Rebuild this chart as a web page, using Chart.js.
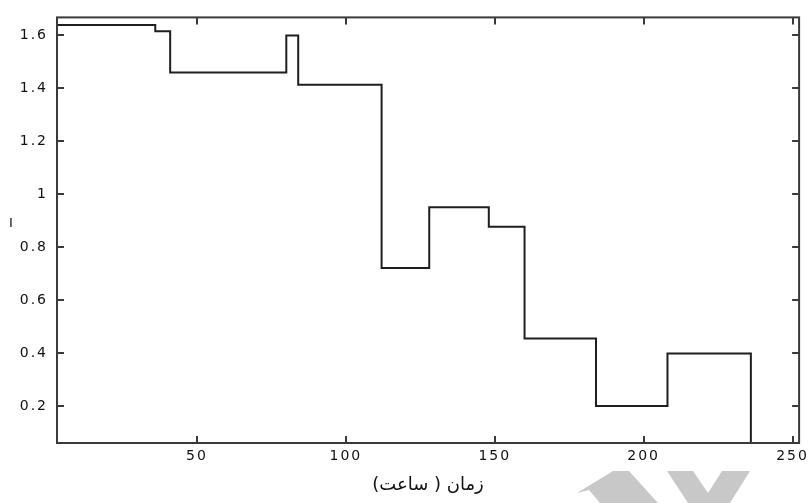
<!DOCTYPE html>
<html>
<head>
<meta charset="utf-8">
<script src="https://cdn.jsdelivr.net/npm/chart.js@4.4.1/dist/chart.umd.min.js"></script>
<style>
  html, body { margin: 0; padding: 0; background: #fff; }
  #wrap { width: 811px; height: 503px; }
</style>
</head>
<body>
<div id="wrap"><canvas id="stepChart"></canvas></div>
<script>
// step change times (hours) and the level that starts at each time
const changeTimes = [3, 36, 41, 80, 84, 112, 128, 148, 160, 184, 208, 236];
const levels = [1.639, 1.616, 1.46, 1.6, 1.414, 0.721, 0.951, 0.877, 0.455, 0.2, 0.398, 0];

const xTicks = [50, 100, 150, 200, 250];
const yTicks = [0.2, 0.4, 0.6, 0.8, 1, 1.2, 1.4, 1.6];

const xTitle = 'زمان ( ساعت)';
const yMark = 'I';

const frameColor = '#3a3a3a';
const inkColor = '#111';

// box frame + inward ticks on all four sides, title and watermark
const framePlugin = {
  id: 'frame',
  afterDraw(chart) {
    const ctx = chart.ctx;
    const a = chart.chartArea;
    const xs = chart.scales.x, ys = chart.scales.y;
    const tl = 7;
    ctx.save();
    ctx.strokeStyle = frameColor;
    ctx.lineWidth = 2;
    ctx.strokeRect(a.left, a.top, a.right - a.left, a.bottom - a.top);
    ctx.beginPath();
    xTicks.forEach(v => {
      const x = Math.round(xs.getPixelForValue(v));
      ctx.moveTo(x, a.bottom); ctx.lineTo(x, a.bottom - tl);
      ctx.moveTo(x, a.top); ctx.lineTo(x, a.top + tl);
    });
    yTicks.forEach(v => {
      const y = Math.round(ys.getPixelForValue(v));
      ctx.moveTo(a.left, y); ctx.lineTo(a.left + tl, y);
      ctx.moveTo(a.right, y); ctx.lineTo(a.right - tl, y);
    });
    ctx.stroke();

    // x title
    ctx.letterSpacing = '0px';
    ctx.fillStyle = inkColor;
    ctx.font = '18px "DejaVu Sans"';
    ctx.textAlign = 'center';
    ctx.textBaseline = 'middle';
    ctx.direction = 'rtl';
    ctx.fillText(xTitle, (a.left + a.right) / 2, 485);

    // leftover y label stroke
    ctx.direction = 'ltr';
    ctx.textAlign = 'left';
    ctx.textBaseline = 'alphabetic';
    ctx.font = '13px "DejaVu Sans"';
    ctx.fillText(yMark, 9, 227);

    // watermark shapes
    ctx.fillStyle = '#c8c8c8';
    ctx.beginPath();
    ctx.moveTo(577, 493); ctx.lineTo(613, 471); ctx.lineTo(629, 471);
    ctx.lineTo(658, 503); ctx.lineTo(600, 503); ctx.lineTo(589, 490);
    ctx.closePath(); ctx.fill();
    ctx.beginPath();
    ctx.moveTo(667, 471); ctx.lineTo(693, 471); ctx.lineTo(708, 493);
    ctx.lineTo(722, 471); ctx.lineTo(750, 471); ctx.lineTo(730, 503);
    ctx.lineTo(688, 503);
    ctx.closePath(); ctx.fill();
    ctx.restore();
  }
};

const spacingPlugin = {
  id: 'spacing',
  beforeDraw(chart) {
    chart.ctx.letterSpacing = '2px';
  }
};

const tickFont = { family: 'DejaVu Sans', size: 14 };

const ctx = document.getElementById('stepChart').getContext('2d');
new Chart(ctx, {
  type: 'line',
  data: {
    datasets: [{
      data: changeTimes.map((t, i) => ({ x: t, y: levels[i] })),
      stepped: 'before',
      borderColor: '#1e1e1e',
      borderWidth: 2,
      pointRadius: 0,
      fill: false
    }]
  },
  options: {
    responsive: true,
    maintainAspectRatio: false,
    animation: false,
    layout: { padding: { left: 0, top: 10, right: 10, bottom: 0 } },
    plugins: {
      legend: { display: false },
      tooltip: { enabled: false }
    },
    scales: {
      x: {
        type: 'linear',
        min: 3,
        max: 252.2,
        grid: { display: false, drawTicks: false },
        border: { display: false },
        afterBuildTicks: s => { s.ticks = xTicks.map(v => ({ value: v })); },
        afterFit: s => { s.height = 60; },
        ticks: {
          color: inkColor,
          padding: 5,
          maxRotation: 0,
          callback: v => String(v),
          font: tickFont
        }
      },
      y: {
        min: 0.06,
        max: 1.668,
        grid: { display: false, drawTicks: false },
        border: { display: false },
        afterBuildTicks: s => { s.ticks = yTicks.map(v => ({ value: v })); },
        afterFit: s => { s.width = 57; },
        ticks: {
          color: inkColor,
          padding: 9,
          callback: v => String(v),
          font: tickFont
        }
      }
    }
  },
  plugins: [spacingPlugin, framePlugin]
});
</script>
</body>
</html>
